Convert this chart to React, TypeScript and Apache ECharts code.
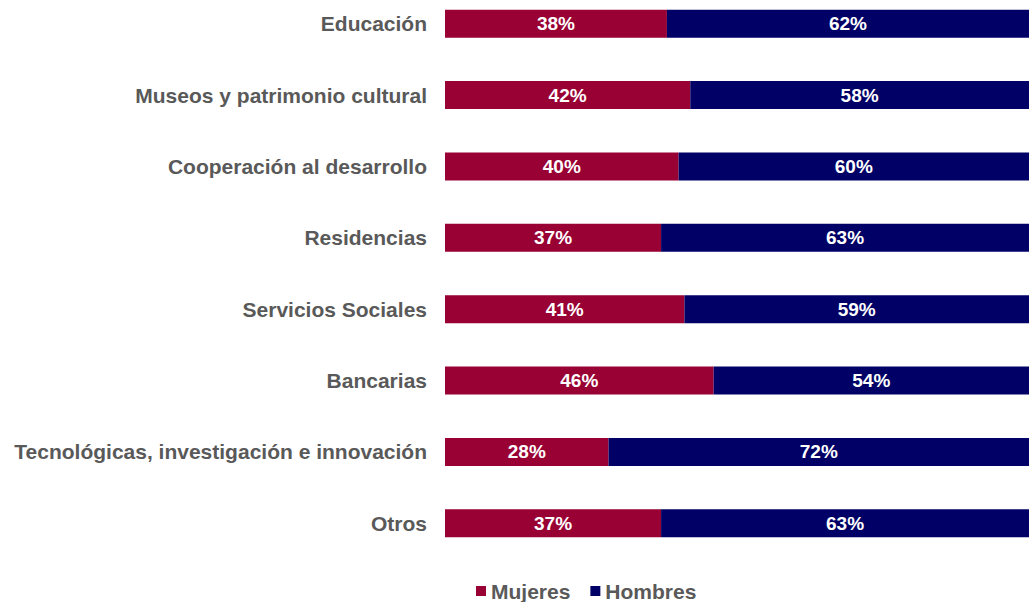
import React, { useEffect, useRef } from "react";
import * as echarts from "echarts";

const categories = [
  "Educación",
  "Museos y patrimonio cultural",
  "Cooperación al desarrollo",
  "Residencias",
  "Servicios Sociales",
  "Bancarias",
  "Tecnológicas, investigación e innovación",
  "Otros",
];
const mujeres = [38, 42, 40, 37, 41, 46, 28, 37];
const hombres = [62, 58, 60, 63, 59, 54, 72, 63];

export default function App() {
  const ref = useRef<HTMLDivElement>(null);
  useEffect(() => {
    if (!ref.current) return;
    const chart = echarts.init(ref.current, null, { renderer: "svg" });
    const font = "'Liberation Sans', Arial, sans-serif";
    const label = {
      show: true,
      position: "inside",
      formatter: "{c}%",
      color: "#ffffff",
      fontWeight: "bold",
      fontSize: 19,
      fontFamily: font,
    };
    chart.setOption({
      animation: false,
      grid: { left: 445, right: 2, top: -12, height: 571, outerBoundsMode: "none", containLabel: false },
      legend: {
        top: 577,
        left: 474,
        padding: 2,
        itemWidth: 10,
        itemHeight: 10,
        itemGap: 20,
        icon: "rect",
        textStyle: { color: "#595959", fontSize: 21, fontWeight: "bold", fontFamily: font, lineHeight: 24 },
        data: ["Mujeres", "Hombres"],
      },
      xAxis: { type: "value", min: 0, max: 100, show: false },
      yAxis: {
        type: "category",
        inverse: true,
        data: categories,
        axisLine: { show: false },
        axisTick: { show: false },
        axisLabel: {
          color: "#595959",
          fontSize: 21,
          fontWeight: "bold",
          fontFamily: font,
          margin: 18,
        },
      },
      series: [
        {
          name: "Mujeres",
          type: "bar",
          stack: "total",
          data: mujeres,
          barWidth: 28,
          itemStyle: { color: "#990033" },
          label,
        },
        {
          name: "Hombres",
          type: "bar",
          stack: "total",
          data: hombres,
          barWidth: 28,
          itemStyle: { color: "#000066" },
          label,
        },
      ],
    });
    return () => chart.dispose();
  }, []);
  return <div ref={ref} style={{ width: 1031, height: 602, position: "absolute", left: 0, top: 0 }} />;
}
